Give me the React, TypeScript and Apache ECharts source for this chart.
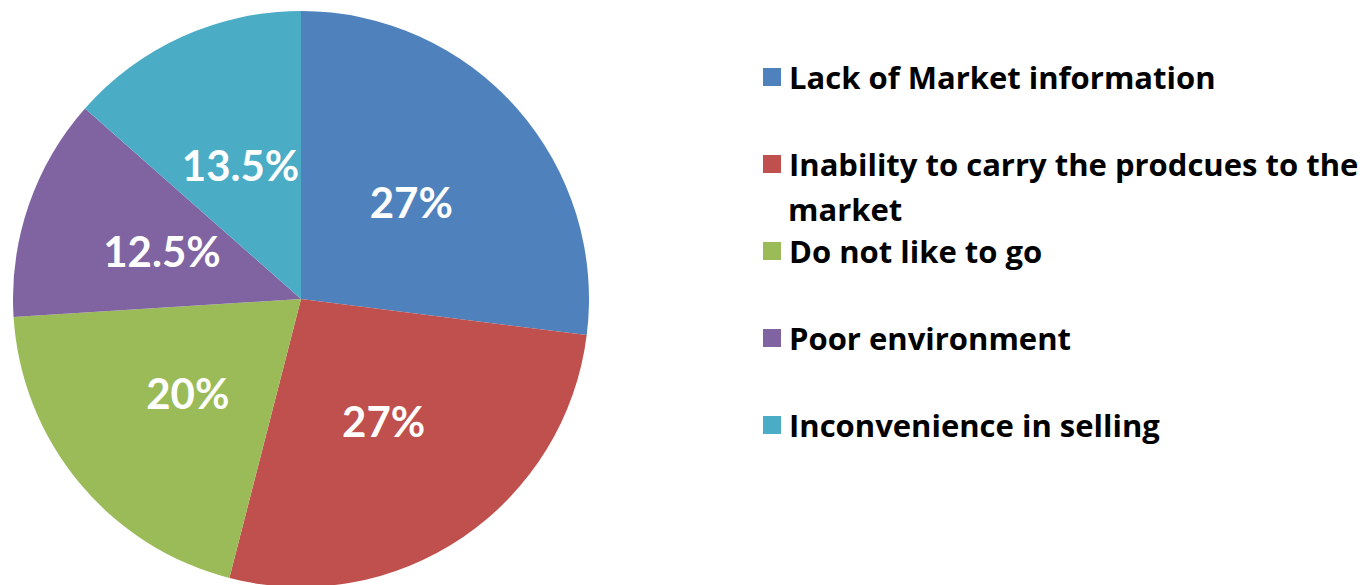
import React, { useEffect, useRef } from "react";
import * as echarts from "echarts";

const categories = [
  "Lack of Market information",
  "Inability to carry the prodcues to the market",
  "Do not like to go",
  "Poor environment",
  "Inconvenience in selling",
];
const values = [27, 27, 20, 12.5, 13.5];
const labels = ["27%", "27%", "20%", "12.5%", "13.5%"];
const colors = ["#4F81BD", "#C0504D", "#9BBB59", "#8064A2", "#4BACC6"];

export default function App() {
  const ref = useRef<HTMLDivElement>(null);
  useEffect(() => {
    document.body.style.margin = "0";
    const chart = echarts.init(ref.current!, null, { renderer: "svg" });
    const font = "Lato, 'Open Sans', sans-serif";
    const legendFont = "'Open Sans', sans-serif";
    chart.setOption({
      animation: false,
      color: colors,
      legend: {
        orient: "vertical",
        left: 758,
        top: 50,
        itemWidth: 18,
        itemHeight: 18,
        itemGap: 43,
        icon: "rect",
        selectedMode: false,
        data: categories,
        formatter: (name: string) =>
          name === categories[1] ? "Inability to carry the prodcues to the" : name,
        textStyle: {
          fontFamily: legendFont,
          fontWeight: "bold",
          fontSize: 31,
          lineHeight: 44,
          color: "#000",
          padding: [0, 0, 0, 3],
        },
      },
      graphic: [
        {
          type: "text",
          left: 788,
          top: 193,
          style: {
            text: "market",
            font: `bold 31px ${legendFont}`,
            fill: "#000",
          },
        },
      ],
      series: [
        {
          type: "pie",
          center: [301, 299],
          radius: 288,
          startAngle: 90,
          clockwise: true,
          avoidLabelOverlap: false,
          data: categories.map((c, i) => ({ name: c, value: values[i], label: { formatter: labels[i] } })),
          label: {
            show: true,
            position: "inside",
            color: "#fff",
            fontFamily: font,
            fontWeight: "bold",
            fontSize: 42,
          },
          labelLine: { show: false },
          itemStyle: { borderWidth: 0 },
          emphasis: { disabled: true },
        },
      ],
    });
    return () => chart.dispose();
  }, []);
  return <div ref={ref} style={{ width: 1367, height: 585 }} />;
}
